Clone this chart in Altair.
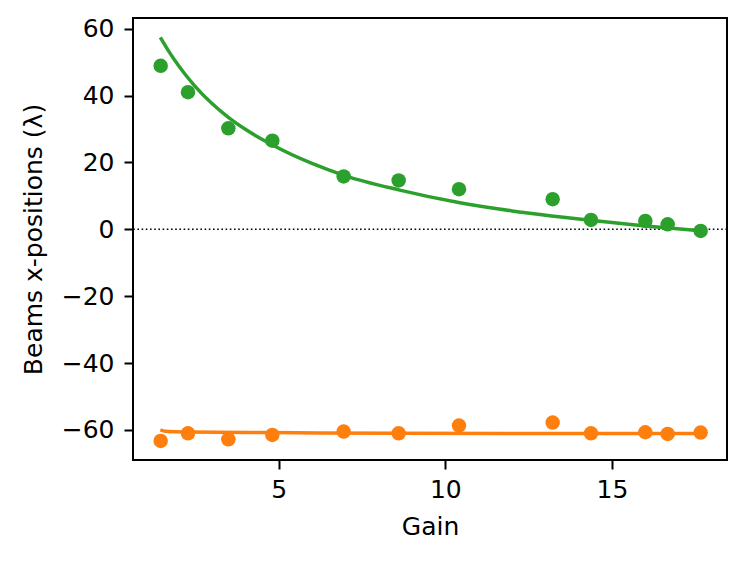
import altair as alt
import pandas as pd

# measured data points
gain = [1.46, 2.28, 3.49, 4.81, 6.95, 8.60, 10.41, 13.22, 14.37, 16.00, 16.67, 17.66]
beam_green = [48.9, 41.0, 30.2, 26.5, 15.8, 14.6, 12.0, 9.0, 2.8, 2.5, 1.5, -0.5]
beam_orange = [-63.3, -61.0, -62.8, -61.5, -60.5, -61.0, -58.7, -57.8, -61.0, -60.7, -61.2, -60.8]

# fitted curves
fit_gain = [1.45, 1.7, 2.0, 2.27, 2.5, 3.0, 3.5, 4.0, 4.8, 6.0, 7.0, 8.6, 10.4, 12.0, 13.2, 14.35, 16.0, 17.65]
fit_green = [57.4, 53.3, 48.9, 45.4, 42.7, 37.6, 33.4, 29.9, 25.3, 19.7, 16.0, 11.8, 8.0, 5.5, 4.0, 2.7, 1.0, -0.4]
fit_gain_o = [1.45, 1.6, 2.27, 4.8, 8.6, 13.2, 17.65]
fit_orange = [-60.0, -60.4, -60.6, -60.8, -61.0, -61.1, -61.1]

GREEN = "#2ca02c"
ORANGE = "#ff7f0e"

pts = pd.DataFrame({
    "gain": gain * 2,
    "pos": beam_green + beam_orange,
    "beam": ["green"] * len(gain) + ["orange"] * len(gain),
})
fit_df = pd.DataFrame({
    "gain": fit_gain + fit_gain_o,
    "pos": fit_green + fit_orange,
    "beam": ["green"] * len(fit_gain) + ["orange"] * len(fit_gain_o),
})
zero_df = pd.DataFrame({"y": [0]})

xscale = alt.Scale(domain=[0.63, 18.45], nice=False, zero=False)
yscale = alt.Scale(domain=[-69.0, 63.2], nice=False, zero=False)
color = alt.Color("beam:N", scale=alt.Scale(domain=["green", "orange"], range=[GREEN, ORANGE]), legend=None)

x_enc = alt.X("gain:Q", scale=xscale,
              axis=alt.Axis(title="Gain", values=[5, 10, 15], format="d", labelPadding=8, titlePadding=12))
y_enc = alt.Y("pos:Q", scale=yscale,
              axis=alt.Axis(title="Beams x-positions (λ)", values=[-60, -40, -20, 0, 20, 40, 60],
                            format="d", labelPadding=10, titlePadding=15))

zero = alt.Chart(zero_df).mark_rule(color="black", strokeWidth=1.6, strokeDash=[1.6, 2.6]).encode(
    y=alt.Y("y:Q", scale=yscale)
)

lines = alt.Chart(fit_df).mark_line(strokeWidth=3.5, interpolate="monotone", clip=True).encode(
    x=x_enc, y=y_enc, color=color, detail="beam:N"
)

points = alt.Chart(pts).mark_circle(size=210, opacity=1).encode(
    x=x_enc, y=y_enc, color=color
)

chart = (
    alt.layer(zero, lines, points)
    .properties(
        width=594,
        height=442,
        autosize=alt.AutoSizeParams(type="none"),
        padding={"left": 125, "top": 10, "right": 12, "bottom": 90},
        background="white",
    )
    .configure_view(stroke="black", strokeWidth=2)
    .configure_axis(
        grid=False,
        domain=False,
        ticks=True,
        tickColor="black",
        tickSize=9,
        tickWidth=2,
        labelFont="DejaVu Sans",
        labelFontSize=25,
        labelColor="black",
        titleFont="DejaVu Sans",
        titleFontSize=25,
        titleFontWeight="normal",
        titleColor="black",
    )
)

chart.save("out.html", embed_options={"renderer": "svg", "actions": False})
